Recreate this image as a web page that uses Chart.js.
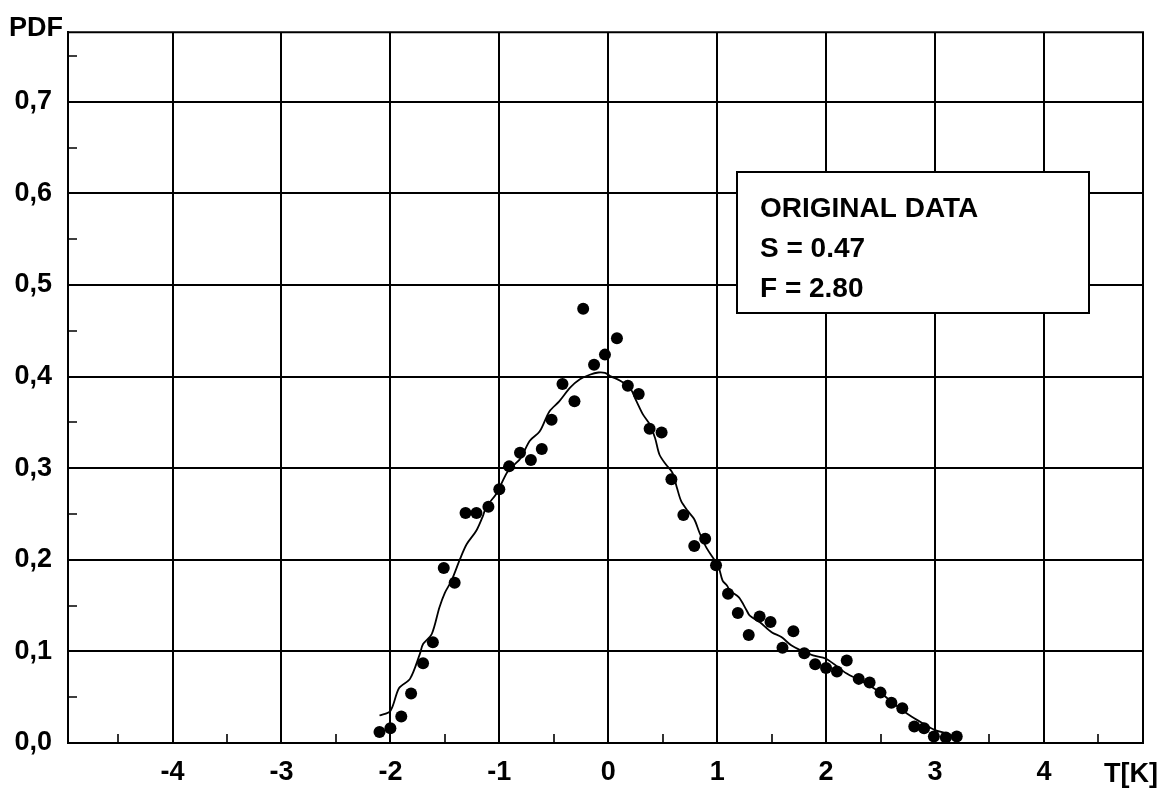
<!DOCTYPE html>
<html>
<head>
<meta charset="utf-8">
<script src="https://cdn.jsdelivr.net/npm/chart.js@4.4.1/dist/chart.umd.min.js"></script>
<style>
  html, body { margin: 0; padding: 0; background: #fff; }
  canvas { display: block; }
</style>
</head>
<body>
<canvas id="pdfChart" width="1160" height="791"></canvas>
<script>
// Measured temperature fluctuation samples: T [K] and probability density
const sampleT = [
  -2.10, -2.00, -1.90, -1.81, -1.70, -1.61, -1.51, -1.41, -1.31, -1.21,
  -1.10, -1.00, -0.91, -0.81, -0.71, -0.61, -0.52, -0.42, -0.31, -0.23,
  -0.13, -0.03, 0.08, 0.18, 0.28, 0.38, 0.49, 0.58, 0.69, 0.79,
  0.89, 0.99, 1.10, 1.19, 1.29, 1.39, 1.49, 1.60, 1.70, 1.80,
  1.90, 2.00, 2.10, 2.19, 2.30, 2.40, 2.50, 2.60, 2.70, 2.81,
  2.90, 2.99, 3.10, 3.20
];
const samplePdf = [
  0.012, 0.016, 0.029, 0.054, 0.087, 0.110, 0.191, 0.175, 0.251, 0.251,
  0.258, 0.277, 0.302, 0.317, 0.309, 0.321, 0.353, 0.392, 0.373, 0.474,
  0.413, 0.424, 0.442, 0.390, 0.381, 0.343, 0.339, 0.288, 0.249, 0.215,
  0.223, 0.194, 0.163, 0.142, 0.118, 0.138, 0.132, 0.104, 0.122, 0.098,
  0.086, 0.082, 0.078, 0.090, 0.070, 0.066, 0.055, 0.044, 0.038, 0.018,
  0.016, 0.007, 0.006, 0.007
];

// Smoothed density curve
const curveT = [
  -2.10, -2.00, -1.92, -1.82, -1.73, -1.70, -1.62, -1.55, -1.50, -1.44,
  -1.36, -1.30, -1.21, -1.15, -1.12, -1.03, -0.92, -0.81, -0.72, -0.63,
  -0.54, -0.45, -0.35, -0.26, -0.17, -0.09, -0.03, 0.03, 0.11, 0.20,
  0.26, 0.32, 0.38, 0.43, 0.47, 0.53, 0.59, 0.63, 0.67, 0.73,
  0.79, 0.84, 0.90, 0.96, 1.01, 1.05, 1.09, 1.12, 1.20, 1.27,
  1.30, 1.39, 1.50, 1.59, 1.68, 1.77, 1.88, 2.00, 2.19, 2.31,
  2.49, 2.62, 2.77, 2.89, 3.00, 3.10, 3.21
];
const curvePdf = [
  0.030, 0.035, 0.060, 0.070, 0.097, 0.108, 0.119, 0.148, 0.164, 0.177,
  0.201, 0.217, 0.232, 0.248, 0.258, 0.2715, 0.297, 0.310, 0.330, 0.340,
  0.362, 0.373, 0.388, 0.397, 0.402, 0.4045, 0.404, 0.400, 0.3955, 0.3875,
  0.373, 0.3585, 0.348, 0.333, 0.315, 0.304, 0.295, 0.279, 0.264, 0.2534,
  0.2443, 0.229, 0.2135, 0.2026, 0.1936, 0.1773, 0.172, 0.166, 0.159, 0.145,
  0.139, 0.132, 0.121, 0.1156, 0.1066, 0.101, 0.0957, 0.092, 0.0758, 0.0685,
  0.0558, 0.0432, 0.030, 0.0214, 0.0141, 0.0105, 0.005
];

// Axis ticks
const xTicks = [-4, -3, -2, -1, 0, 1, 2, 3, 4];
const xMinorTicks = [-4.5, -3.5, -2.5, -1.5, -0.5, 0.5, 1.5, 2.5, 3.5, 4.5];
const yTicks = [0, 0.1, 0.2, 0.3, 0.4, 0.5, 0.6, 0.7];
const yMinorTicks = [0.05, 0.15, 0.25, 0.35, 0.45, 0.55, 0.65, 0.75];

// Text
const xAxisTitle = 'T[K]';
const yAxisTitle = 'PDF';
const infoLines = ['ORIGINAL DATA', 'S = 0.47', 'F = 2.80'];

const FONT = "'Liberation Sans', Arial, Helvetica, sans-serif";
const INK = '#000';

const toPoints = (xs, ys) => xs.map((x, i) => ({ x: x, y: ys[i] }));

// Frame, minor ticks, axis titles and the info box
const decorations = {
  id: 'decorations',
  beforeDatasetsDraw(chart) {
    const { ctx, chartArea: a, scales: { x, y } } = chart;
    ctx.save();
    ctx.strokeStyle = INK;
    ctx.lineWidth = 2;
    ctx.beginPath();
    ctx.moveTo(a.left, a.top);
    ctx.lineTo(a.right, a.top);
    ctx.lineTo(a.right, a.bottom);
    ctx.stroke();

    ctx.lineWidth = 1.6;
    ctx.beginPath();
    xMinorTicks.forEach(v => {
      const px = Math.round(x.getPixelForValue(v));
      ctx.moveTo(px, a.bottom);
      ctx.lineTo(px, a.bottom - 9);
    });
    yMinorTicks.forEach(v => {
      const py = Math.round(y.getPixelForValue(v));
      ctx.moveTo(a.left, py);
      ctx.lineTo(a.left + 9, py);
    });
    ctx.stroke();
    ctx.restore();
  },
  afterDraw(chart) {
    const { ctx, chartArea: a } = chart;
    ctx.save();
    ctx.fillStyle = INK;
    ctx.font = `bold 27px ${FONT}`;
    ctx.textBaseline = 'alphabetic';
    ctx.textAlign = 'left';
    ctx.fillText(yAxisTitle, 9, a.top + 4);
    ctx.textAlign = 'right';
    ctx.fillText(xAxisTitle, 1158, 782);

    // info box
    const bx = 737, by = 172, bw = 352, bh = 141;
    ctx.fillStyle = '#fff';
    ctx.fillRect(bx, by, bw, bh);
    ctx.strokeStyle = INK;
    ctx.lineWidth = 2;
    ctx.strokeRect(bx, by, bw, bh);
    ctx.fillStyle = INK;
    ctx.font = `bold 28px ${FONT}`;
    ctx.textAlign = 'left';
    infoLines.forEach((t, i) => ctx.fillText(t, 760, 217 + i * 40));
    ctx.restore();
  }
};

new Chart(document.getElementById('pdfChart'), {
  type: 'scatter',
  data: {
    datasets: [
      {
        label: 'curve',
        data: toPoints(curveT, curvePdf),
        showLine: true,
        borderColor: INK,
        borderWidth: 1.8,
        pointRadius: 0,
        tension: 0.3,
        order: 2
      },
      {
        label: 'samples',
        data: toPoints(sampleT, samplePdf),
        showLine: false,
        pointRadius: 6,
        pointBackgroundColor: INK,
        pointBorderWidth: 0,
        order: 1
      }
    ]
  },
  options: {
    responsive: false,
    animation: false,
    layout: { padding: { left: 0, top: 29, right: 17, bottom: 0 } },
    plugins: { legend: { display: false }, tooltip: { enabled: false } },
    scales: {
      x: {
        type: 'linear',
        min: -4.96,
        max: 4.91,
        afterBuildTicks: s => { s.ticks = xTicks.map(v => ({ value: v })); },
        afterFit: s => { s.height = 48; },
        grid: { color: INK, lineWidth: 2, drawTicks: false },
        border: { display: true, color: INK, width: 2 },
        ticks: {
          color: INK,
          padding: 13,
          maxRotation: 0,
          font: { family: FONT, size: 27, weight: 'bold' },
          callback: v => String(v)
        }
      },
      y: {
        type: 'linear',
        min: 0,
        max: 0.776,
        afterBuildTicks: s => { s.ticks = yTicks.map(v => ({ value: v })); },
        afterFit: s => { s.width = 68; },
        grid: { color: INK, lineWidth: 2, drawTicks: false },
        border: { display: true, color: INK, width: 2 },
        ticks: {
          color: INK,
          padding: 16,
          font: { family: FONT, size: 27, weight: 'bold' },
          callback: v => v.toFixed(1).replace('.', ',')
        }
      }
    }
  },
  plugins: [decorations]
});
</script>
</body>
</html>
